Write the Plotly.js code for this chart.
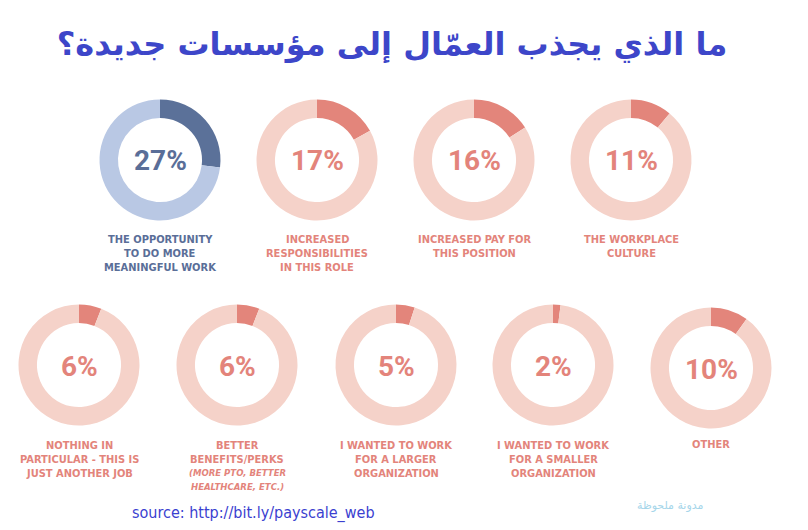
<!DOCTYPE html>
<html>
<head>
<meta charset="utf-8">
<script src="https://cdn.plot.ly/plotly-3.0.1.min.js"></script>
<style>html,body{margin:0;padding:0;background:#fff;}#chart{width:808px;height:530px;}</style>
</head>
<body>
<div id="chart"></div>
<script>
// ---- data ----
const titleText = "ما الذي يجذب العمّال إلى مؤسسات جديدة؟";
const categories = [
  "THE OPPORTUNITY<br>TO DO MORE<br>MEANINGFUL WORK",
  "INCREASED<br>RESPONSIBILITIES<br>IN THIS ROLE",
  "INCREASED PAY FOR<br>THIS POSITION",
  "THE WORKPLACE<br>CULTURE",
  "NOTHING IN<br>PARTICULAR - THIS IS<br>JUST ANOTHER JOB",
  "BETTER<br>BENEFITS/PERKS",
  "I WANTED TO WORK<br>FOR A LARGER<br>ORGANIZATION",
  "I WANTED TO WORK<br>FOR A SMALLER<br>ORGANIZATION",
  "OTHER"
];
const subNotes = ["", "", "", "", "", "(MORE PTO, BETTER<br>HEALTHCARE, ETC.)", "", "", ""];
const values = [27, 17, 16, 11, 6, 6, 5, 2, 10];
const sourceText = "source: http://bit.ly/payscale_web";
const watermarkText = "مدونة ملحوظة";

// ---- layout geometry (pixels) ----
const W = 808, H = 530, R = 60.5;
const centers = [
  [160, 160], [317, 160], [474, 160], [631, 160],
  [79, 365], [237, 365], [396, 365], [553, 365], [711, 368]
];
const labelTop = [239, 239, 239, 239, 445, 445, 445, 445, 444];
const lineGap = 14;

const highlight = [true, false, false, false, false, false, false, false, false];
const blueDark = "#5b7199", blueLight = "#b9c8e4";
const redDark = "#e3857b", redLight = "#f5d2c9";
const labelFont = "DejaVu Sans Condensed, DejaVu Sans, sans-serif";

const px = x => x / W;
const py = y => 1 - y / H;

const traces = values.map((v, i) => {
  const [cx, cy] = centers[i];
  const dark = highlight[i] ? blueDark : redDark;
  const light = highlight[i] ? blueLight : redLight;
  return {
    type: "pie",
    values: [v, 100 - v],
    labels: ["a" + i, "b" + i],
    sort: false,
    direction: "clockwise",
    rotation: 0,
    hole: 0.695,
    textinfo: "none",
    hoverinfo: "skip",
    showlegend: false,
    marker: { colors: [dark, light], line: { width: 0 } },
    domain: { x: [px(cx - R), px(cx + R)], y: [py(cy + R), py(cy - R)] }
  };
});

const annotations = [];
values.forEach((v, i) => {
  const [cx, cy] = centers[i];
  const col = highlight[i] ? "#5a6e98" : "#e3847b";
  annotations.push({
    x: px(cx), y: py(cy), xref: "paper", yref: "paper",
    text: v + "%", showarrow: false, xanchor: "center", yanchor: "middle",
    yshift: -1,
    font: { family: "Roboto", size: 28, weight: "bold", color: col }
  });
  const lines = categories[i].split("<br>");
  lines.forEach((ln, k) => {
    annotations.push({
      x: px(cx), y: py(labelTop[i] + k * lineGap), xref: "paper", yref: "paper",
      text: ln, showarrow: false, xanchor: "center", yanchor: "middle",
      font: { family: labelFont, size: 11, weight: "bold", color: col }
    });
  });
  if (subNotes[i]) {
    const sub = subNotes[i].split("<br>");
    sub.forEach((ln, k) => {
      annotations.push({
        x: px(cx), y: py(labelTop[i] + (lines.length + k) * lineGap - 1), xref: "paper", yref: "paper",
        text: "<i>" + ln + "</i>", showarrow: false, xanchor: "center", yanchor: "middle",
        font: { family: labelFont, size: 9.5, weight: "bold", color: col }
      });
    });
  }
});

annotations.push({
  x: px(130), y: py(513), xref: "paper", yref: "paper", text: sourceText,
  showarrow: false, xanchor: "left", yanchor: "middle",
  font: { family: "DejaVu Sans Condensed, DejaVu Sans", size: 16, color: "#3b3fd0" }
});
annotations.push({
  x: px(670), y: py(505), xref: "paper", yref: "paper", text: watermarkText,
  showarrow: false, xanchor: "center", yanchor: "middle",
  font: { family: "DejaVu Sans", size: 11, color: "#a6d6ea" }
});

const layout = {
  width: W, height: H,
  margin: { l: 0, r: 0, t: 0, b: 0 },
  paper_bgcolor: "#ffffff",
  title: {
    text: titleText, x: 392 / W, y: 1 - 44 / H, xanchor: "center", yanchor: "middle",
    font: { family: "DejaVu Sans", size: 32, weight: "bold", color: "#3d46c9" }
  },
  annotations: annotations,
  showlegend: false
};

Plotly.newPlot("chart", traces, layout, { displayModeBar: false, staticPlot: true });
</script>
</body>
</html>
